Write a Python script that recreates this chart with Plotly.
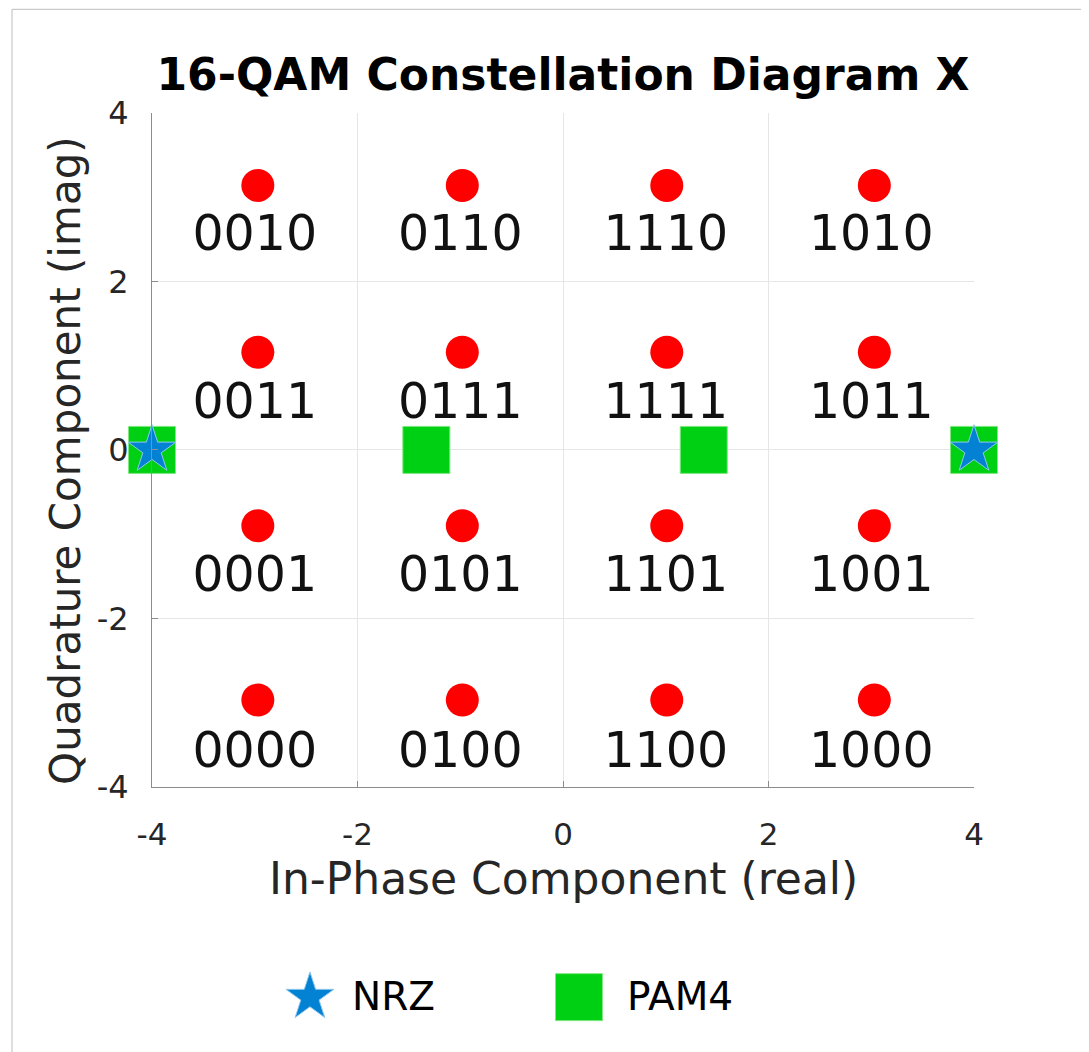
import plotly.graph_objects as go

# ---- data ----
qam_cols_i = [-2.97, -0.98, 1.01, 3.03]          # in-phase of QAM points (per column)
qam_rows_q = [3.14, 1.16, -0.90, -2.97]          # quadrature of QAM points (per row)
label_cols_i = [-3.0, -1.0, 1.0, 3.0]
label_rows_q = [2.52, 0.52, -1.53, -3.62]
bit_labels = [
    ["0010", "0110", "1110", "1010"],
    ["0011", "0111", "1111", "1011"],
    ["0001", "0101", "1101", "1001"],
    ["0000", "0100", "1100", "1000"],
]
nrz_i = [-4.0, 4.0]
nrz_q = [0.0, 0.0]
pam4_i = [-4.0, -1.33, 1.37, 4.0]
pam4_q = [0.0, 0.0, 0.0, 0.0]
tick_vals = [-4, -2, 0, 2, 4]
tick_text = ["-4", "-2", "0", "2", "4"]
legend_names = ["NRZ", "PAM4"]

STAR_BLUE = "#0381D2"
GREEN = "#00D014"
FONT = "DejaVu Sans"
AX_COL = "#262626"

qam_i = [i for q in qam_rows_q for i in qam_cols_i]
qam_q = [q for q in qam_rows_q for i in qam_cols_i]
lab_i = [i for q in label_rows_q for i in label_cols_i]
lab_q = [q for q in label_rows_q for i in label_cols_i]
lab_t = [t for row in bit_labels for t in row]

fig = go.Figure()

fig.add_trace(go.Scatter(
    x=pam4_i, y=pam4_q, mode="markers", name=legend_names[1], showlegend=False,
    marker=dict(symbol="square", size=47, color=GREEN, line=dict(color="#7FE87F", width=1)),
    cliponaxis=False))
fig.add_trace(go.Scatter(
    x=nrz_i, y=nrz_q, mode="markers", name=legend_names[0], showlegend=False,
    marker=dict(symbol="star", size=36, color=STAR_BLUE, line=dict(color="#8CC8EE", width=1)),
    cliponaxis=False))
fig.add_trace(go.Scatter(
    x=qam_i, y=qam_q, mode="markers", showlegend=False,
    marker=dict(symbol="circle", size=33, color="#FF0000", line=dict(width=0)),
    cliponaxis=False))
fig.add_trace(go.Scatter(
    x=lab_i, y=lab_q, mode="text", text=lab_t, showlegend=False,
    textposition="middle center",
    textfont=dict(family=FONT, size=49, color="#111111"),
    cliponaxis=False))

# custom legend (large markers) on a hidden axis pair
fig.add_trace(go.Scatter(
    x=[0], y=[0], mode="markers", xaxis="x2", yaxis="y2", showlegend=False,
    marker=dict(symbol="star", size=36, color=STAR_BLUE, line=dict(color="#8CC8EE", width=1)),
    cliponaxis=False))
fig.add_trace(go.Scatter(
    x=[1], y=[0], mode="markers", xaxis="x2", yaxis="y2", showlegend=False,
    marker=dict(symbol="square", size=47, color=GREEN, line=dict(color="#7FE87F", width=1)),
    cliponaxis=False))

legend_shift = [40, 46]
annotations = []
for k, nm in enumerate(legend_names):
    annotations.append(dict(
        x=k, y=0, xref="x2", yref="y2", text=nm, showarrow=False,
        xanchor="left", yanchor="middle", xshift=legend_shift[k], yshift=1,
        font=dict(family=FONT, size=39, color="#000000")))

annotations.append(dict(
    x=0.5, y=0.1695, xref="paper", yref="paper", text="In-Phase Component (real)",
    showarrow=False, xanchor="center", yanchor="middle", yshift=-5,
    font=dict(family=FONT, size=44, color=AX_COL)))
annotations.append(dict(
    x=-0.1046, y=0.6202, xref="paper", yref="paper", text="Quadrature Component (imag)",
    showarrow=False, xanchor="center", yanchor="middle", textangle=-90,
    font=dict(family=FONT, size=42, color=AX_COL)))

# page body adds an 8px offset; margins compensate so the plot area lands where the reference has it
fig.update_layout(
    width=1089, height=1052,
    margin=dict(l=144, r=123, t=105, b=28),
    paper_bgcolor="white", plot_bgcolor="white",
    title=dict(text="<b>16-QAM Constellation Diagram X</b>",
               x=0.5, xref="paper", y=1 - 67 / 1052, yref="container",
               xanchor="center", yanchor="middle",
               font=dict(family=FONT, size=44, color="#000000")),
    xaxis=dict(range=[-4, 4], tickvals=tick_vals, ticktext=tick_text, domain=[0, 1], anchor="y",
               showgrid=True, gridcolor="#E6E6E6", gridwidth=1, zeroline=False,
               showline=True, linecolor="#8C8C8C", linewidth=1,
               ticks="inside", ticklen=6, tickcolor="#8C8C8C",
               ticklabelstandoff=20,
               tickfont=dict(family=FONT, size=31, color=AX_COL)),
    yaxis=dict(range=[-4, 4], tickvals=tick_vals, ticktext=tick_text,
               domain=[(1032 - 789) / 919, 1], anchor="x",
               showgrid=True, gridcolor="#E6E6E6", gridwidth=1, zeroline=False,
               showline=True, linecolor="#8C8C8C", linewidth=1,
               ticks="inside", ticklen=6, tickcolor="#8C8C8C",
               ticklabelstandoff=16,
               tickfont=dict(family=FONT, size=32, color=AX_COL)),
    xaxis2=dict(range=[-0.587, 2.468], domain=[0, 1], anchor="y2", visible=False),
    yaxis2=dict(range=[-1, 1], domain=[0, 0.0696], anchor="x2", visible=False),
    annotations=annotations,
    shapes=[
        dict(type="line", xref="paper", yref="paper", x0=-0.1703, x1=1.15,
             y0=1.1132, y1=1.1132, line=dict(color="#BDBDBD", width=1)),
        dict(type="line", xref="paper", yref="paper", x0=-0.1703, x1=-0.1703,
             y0=1.1132, y1=-0.03, line=dict(color="#BDBDBD", width=1)),
    ],
    showlegend=False,
)

fig.write_html("out.html")
